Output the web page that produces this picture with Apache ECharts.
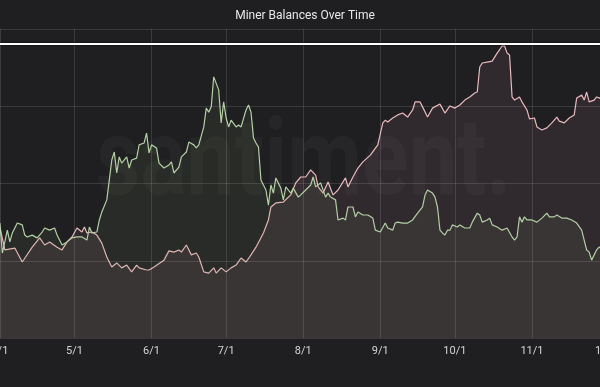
<!DOCTYPE html>
<html>
<head>
<meta charset="utf-8">
<script src="https://cdn.jsdelivr.net/npm/echarts@6/dist/echarts.min.js"></script>
<style>
html,body{margin:0;padding:0;background:#1f1f22;overflow:hidden;width:600px;height:387px;}
#c{position:absolute;left:-20px;top:0;width:660px;height:387px;}
</style>
</head>
<body>
<div id="c"></div>
<script>
// Day offsets are counted from 2019-04-01; the axis runs from 3/24 to 12/4.
var axisStartOffset = -8;
var axisEndOffset = 247;
var yTicks = [0, 25, 50, 75, 100];
var refLineValue = 95.1;

var pinkDays = [0,2,6,9,13,16,18,20,23,25,27,29,31,33,34,35,37,39,41,43,45,47,49,51,53,55,56,59,60,62,66,68,70,72,73,75,77,79,80,82,84,86,87,89,91,93,95,97,99,101,103,106,108,109,111,114,117,119,121,123,125,127,128,130,132,134,136,139,140,142,144,146,149,152,154,155,156,158,160,162,164,166,167,169,170,172,174,177,179,181,183,185,187,189,191,192,193,194,196,198,200,202,203,204,205,206,207,209,210,212,213,215,216,218,220,222,224,225,227,229,231,232,234,235,236,237,239,240,241,242];
var pinkVals = [35.9,28.5,29.1,24.6,29.4,32.4,30.1,31.1,29.4,28.5,31.1,32.7,35.6,34.3,35.9,34.0,34.3,33.3,30.7,26.2,23.0,24.3,22.7,23.6,21.4,23.6,22.7,22.0,22.0,23.0,25.2,28.2,27.8,28.5,27.8,30.1,26.9,27.5,26.2,21.4,21.0,22.7,21.0,22.7,21.4,22.7,23.6,25.9,24.6,26.9,29.4,34.0,38.2,42.4,43.7,44.0,46.3,50.2,52.1,52.1,54.4,52.7,48.9,46.9,50.5,46.3,47.9,51.8,48.9,52.1,55.0,57.0,59.2,62.5,69.6,70.5,69.9,71.2,72.2,72.8,71.5,73.8,76.4,76.4,74.8,71.5,74.4,75.7,72.8,75.1,74.4,75.4,77.0,78.0,79.3,79.6,87.7,89.0,89.3,89.6,92.2,94.5,94.5,92.2,91.6,78.0,77.0,78.0,76.4,73.8,70.9,71.2,68.3,67.3,68.0,69.6,71.5,70.2,69.6,71.2,72.2,77.7,78.6,77.0,79.6,76.4,77.0,78.0,77.7,77.3];

var greenDays = [0,1,3,4,5,7,9,10,11,13,15,17,18,20,22,23,25,27,29,31,33,35,36,37,39,40,41,43,44,45,46,47,48,49,51,52,53,55,56,58,59,60,61,63,64,66,68,69,70,72,73,75,76,78,79,80,82,83,84,85,86,88,89,90,91,92,93,95,96,97,99,100,101,102,103,104,105,107,108,109,110,111,113,114,115,117,118,120,121,123,125,126,127,129,131,132,133,135,136,138,139,140,142,143,144,146,148,150,151,153,155,156,158,159,160,162,164,166,168,170,171,172,174,175,176,177,178,179,180,181,182,184,185,187,189,190,192,193,194,196,197,198,200,202,204,206,207,208,209,210,211,212,214,216,218,220,221,223,224,226,228,230,232,234,235,236,237,238,240,241,242];
var greenVals = [37.2,27.5,34.9,31.1,34.0,37.2,36.6,33.3,32.7,33.3,32.4,34.3,35.6,34.9,35.6,33.3,30.1,31.1,32.4,32.7,32.7,31.7,35.9,34.0,34.3,38.2,40.8,44.7,51.1,57.6,60.2,53.4,58.6,56.6,58.6,55.0,57.6,58.2,62.5,63.1,66.3,59.9,62.5,61.5,56.6,55.0,56.0,57.0,53.4,55.3,58.6,60.2,63.4,62.5,61.5,62.5,68.3,74.4,73.1,74.8,84.5,80.3,69.6,76.4,71.2,68.3,70.5,68.3,68.9,68.3,73.8,75.4,73.1,64.7,63.1,61.8,51.1,47.9,43.0,49.5,46.9,51.8,48.5,44.7,48.9,46.9,48.5,45.6,46.3,47.9,49.5,52.1,48.9,50.2,45.6,46.9,45.6,44.7,38.2,38.8,38.2,42.4,42.4,39.2,40.8,39.8,39.8,38.8,34.9,34.3,37.2,35.6,34.9,37.2,37.5,37.2,37.2,38.2,40.4,42.4,46.3,47.9,46.9,45.6,42.4,34.9,34.0,33.3,34.9,34.9,36.6,35.9,36.6,35.6,35.6,37.5,40.4,39.8,37.5,38.2,38.8,36.6,35.9,34.9,35.6,32.7,31.7,32.7,39.2,37.5,39.2,38.2,38.2,37.5,38.8,40.4,39.2,39.2,39.8,38.8,38.8,38.2,37.2,34.9,31.7,28.5,27.8,25.2,28.5,29.4,29.0];

function dayName(off) {
  var d = new Date(Date.UTC(2019, 3, 1) + off * 86400000);
  return (d.getUTCMonth() + 1) + '/' + d.getUTCDate();
}
var categories = [];
for (var o = axisStartOffset; o <= axisEndOffset; o++) categories.push(dayName(o));
function pairs(days, vals) {
  return days.map(function (d, i) { return [dayName(d), vals[i]]; });
}
function isMonthStart(idx, val) { return /\/1$/.test(val); }

var chart = echarts.init(document.getElementById('c'), null, {renderer: 'canvas'});
chart.setOption({
  backgroundColor: '#1f1f22',
  animation: false,
  title: {
    text: 'Miner Balances Over Time',
    left: 320,
    textAlign: 'center',
    top: 5,
    textStyle: {color: '#e8e8e8', fontSize: 12, fontWeight: 'normal', fontFamily: 'Roboto'}
  },
  graphic: [{
    type: 'text',
    x: 116,
    y: 113,
    scaleX: 0.8,
    silent: true,
    z: 1,
    style: {text: 'santiment.', x: 0, y: 0, fontSize: 108,
      fontFamily: 'Roboto', fontWeight: 'bold', fill: 'rgba(255,255,255,0.03)'}
  }],
  grid: {left: 0, right: 26, top: 29, bottom: 49, containLabel: false},
  xAxis: {
    type: 'category',
    data: categories,
    boundaryGap: false,
    z: 5,
    axisLine: {show: false},
    axisTick: {show: false},
    axisLabel: {interval: isMonthStart, color: '#d4d4d4', fontSize: 11, fontFamily: 'Roboto', margin: 8},
    splitLine: {show: true, interval: isMonthStart, lineStyle: {color: 'rgba(255,255,255,0.12)', width: 1}}
  },
  yAxis: {
    type: 'value',
    min: yTicks[0],
    max: yTicks[yTicks.length - 1],
    interval: 25,
    z: 5,
    axisLabel: {show: false},
    axisLine: {show: false},
    axisTick: {show: false},
    splitLine: {lineStyle: {color: 'rgba(255,255,255,0.12)', width: 1}}
  },
  series: [{
    name: 'pink',
    type: 'line',
    data: pairs(pinkDays, pinkVals),
    showSymbol: false,
    lineStyle: {color: '#e9b9bd', width: 1.2},
    areaStyle: {color: 'rgba(185,130,150,0.16)'},
    z: 2,
    markLine: {
      silent: true,
      symbol: 'none',
      label: {show: false},
      lineStyle: {color: '#ffffff', width: 2, type: 'solid', shadowColor: '#000', shadowBlur: 2},
      data: [{yAxis: refLineValue}]
    }
  }, {
    name: 'green',
    type: 'line',
    data: pairs(greenDays, greenVals),
    showSymbol: false,
    lineStyle: {color: '#b3cfa4', width: 1.2},
    areaStyle: {color: 'rgba(135,155,95,0.15)'},
    z: 3
  }]
});
</script>
</body>
</html>
